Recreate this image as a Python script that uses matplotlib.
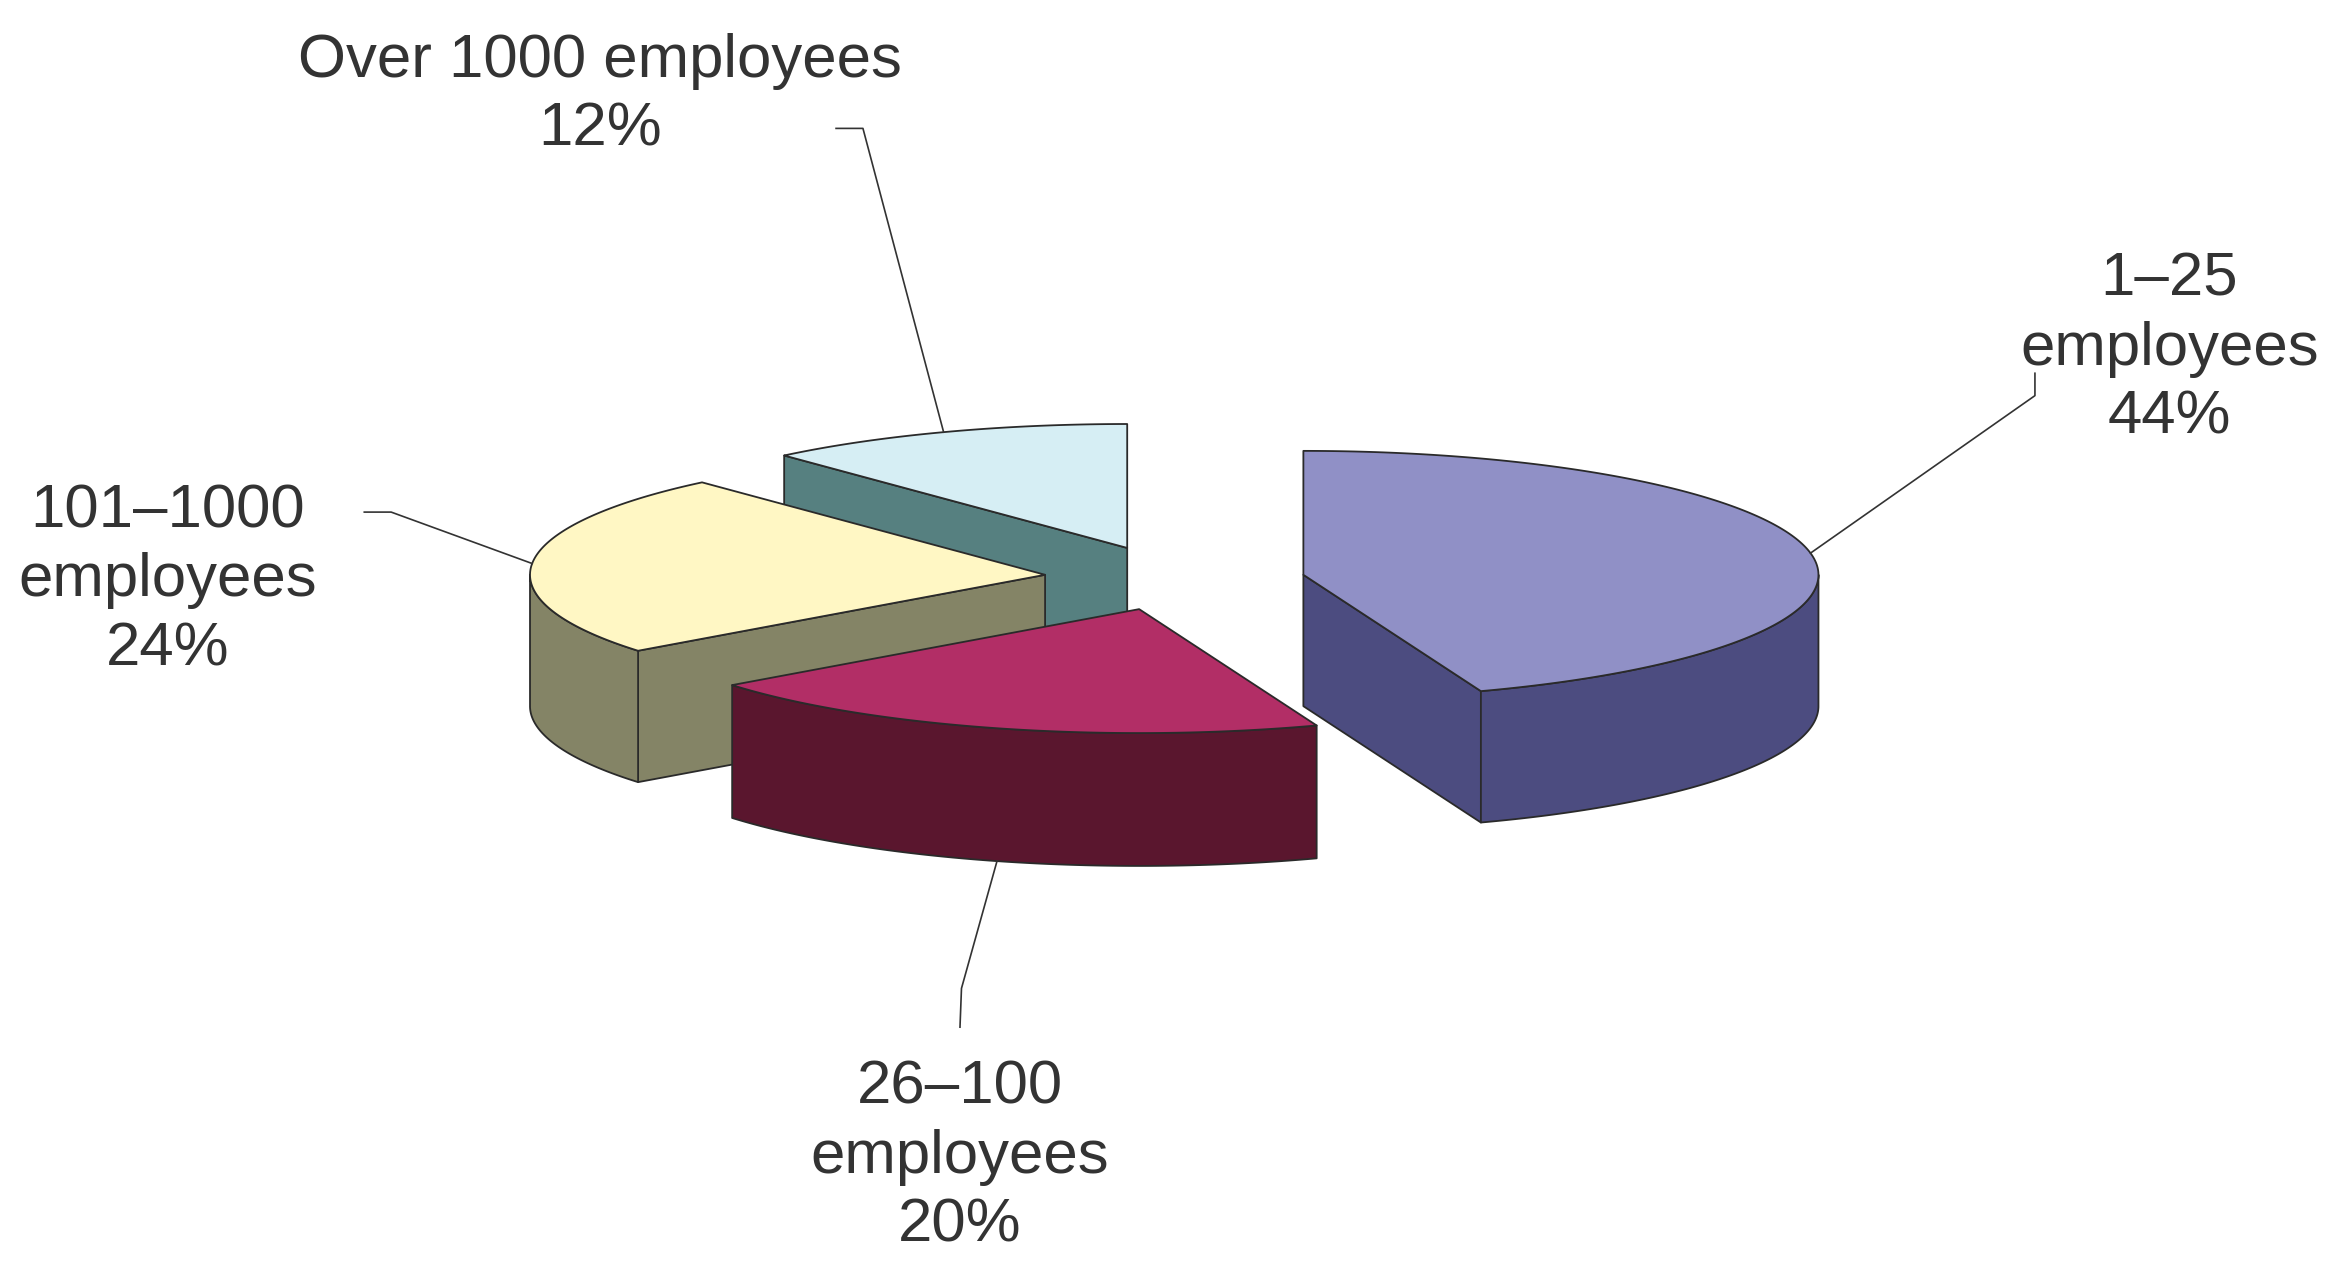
import numpy as np
import matplotlib
matplotlib.use("Agg")
import matplotlib.pyplot as plt
from matplotlib.patches import Polygon

# ---- data ----
categories = ["1–25\nemployees", "26–100\nemployees", "101–1000\nemployees", "Over 1000 employees"]
shares = [44.4, 20.1, 23.9, 11.6]   # slice sizes; labels show them rounded

# ---- style / layout (layout measured in the 1568 wide preview) ----
top_colors = ["#9090C6", "#B22E66", "#FFF7C4", "#D6EEF4"]
side_colors = ["#4C4C80", "#5A162E", "#848466", "#568080"]
S = 2341 / 1568
CENTER = (780, 385)
RX, RY = 345, 83
DEPTH = [88, 89, 88, 88]
EXPLODE = [(93, 0), (-17, 23), (-80, 0), (-25, -18)]
DRAW_ORDER = [3, 2, 0, 1]
LABEL_POS = [(1453, 234), (643, 775), (112, 389), (402, 64)]
ELBOWS = [[(1363, 265), (1363, 250)], [(644, 662), (643, 688)],
          [(262, 343), (244, 343)], [(578, 86), (560, 86)]]
EDGE = "#2a2a2a"
LW = 1.3

plt.rcParams["font.family"] = ["Liberation Sans", "DejaVu Sans"]
fig = plt.figure(figsize=(23.41, 12.72), dpi=100, facecolor="white")
ax = fig.add_axes([0, 0, 1, 1])
ax.set_xlim(0, 2341)
ax.set_ylim(1272, 0)
ax.axis("off")


def rim(apex, theta):
    """Rim point(s) of the tilted pie ellipse; theta is clockwise from 12 o'clock."""
    return (apex[0] + RX * np.sin(theta), apex[1] - RY * np.cos(theta))


def px(points):
    return np.asarray(points, dtype=float) * S


edges = np.deg2rad(np.concatenate([[0], np.cumsum(shares) / np.sum(shares) * 360]))

for i in DRAW_ORDER:
    t0, t1 = edges[i], edges[i + 1]
    apex = (CENTER[0] + EXPLODE[i][0], CENTER[1] + EXPLODE[i][1])
    d = DEPTH[i]
    style = dict(facecolor=side_colors[i], edgecolor=EDGE, linewidth=LW, joinstyle="round")

    # side walls that face the viewer
    for theta, visible in ((t0, np.sin(t0) < -1e-6), (t1, np.sin(t1) > 1e-6)):
        if visible:
            p = rim(apex, theta)
            ax.add_patch(Polygon(px([apex, p, (p[0], p[1] + d), (apex[0], apex[1] + d)]), **style))

    # outer wall: front half of the rim only
    a0, a1 = max(t0, np.pi / 2), min(t1, 3 * np.pi / 2)
    if a1 > a0:
        th = np.linspace(a0, a1, 120)
        x, y = rim(apex, th)
        ax.add_patch(Polygon(px(np.r_[np.c_[x, y], np.c_[x, y + d][::-1]]), **style))

    # top face
    th = np.linspace(t0, t1, 200)
    x, y = rim(apex, th)
    ax.add_patch(Polygon(px(np.r_[[apex], np.c_[x, y]]), facecolor=top_colors[i],
                         edgecolor=EDGE, linewidth=LW, joinstyle="round"))

    # leader line from the rim at the slice's mid angle
    mid = (t0 + t1) / 2
    s = rim(apex, mid)
    if np.cos(mid) < 0:
        s = (s[0], s[1] + d)
    line = px([s] + ELBOWS[i])
    ax.plot(line[:, 0], line[:, 1], color="#333333", lw=1.2, zorder=1)

    # label
    lx, ly = px(LABEL_POS[i])
    ax.text(lx, ly, f"{categories[i]}\n{round(shares[i])}%", ha="center", va="center",
            multialignment="center", fontsize=44.5, color="#333333", linespacing=1.27)

fig.savefig("out.png", dpi=100, facecolor="white")
